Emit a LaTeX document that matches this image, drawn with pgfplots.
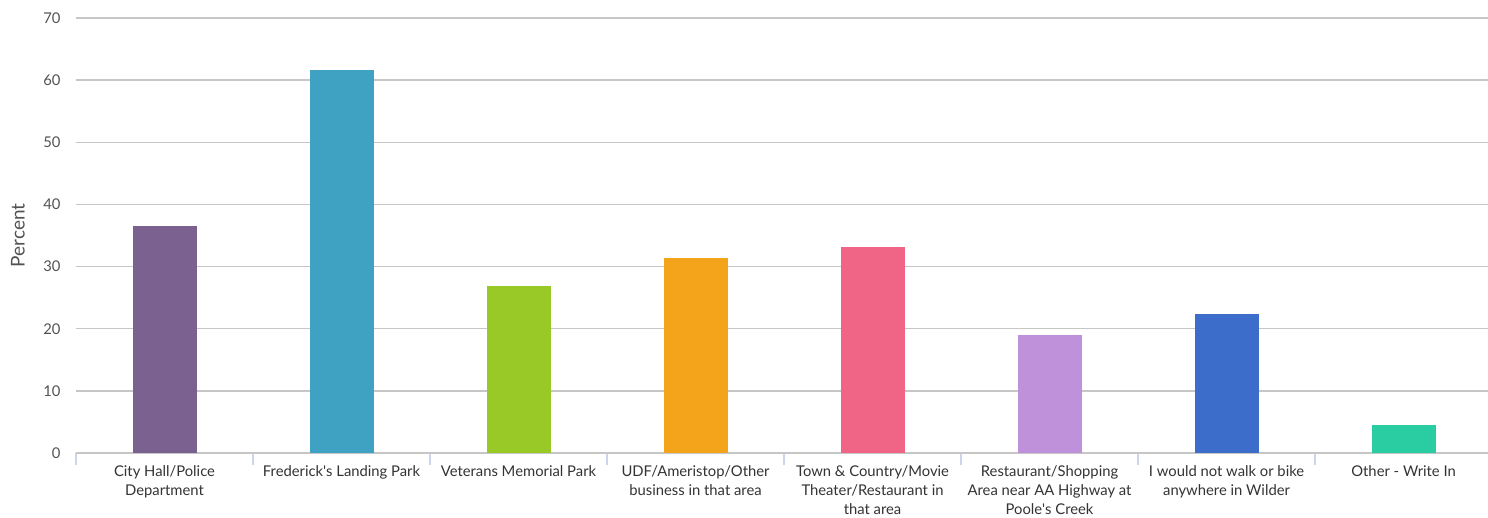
\documentclass[border=0pt]{standalone}
\usepackage{pgfplots}
\pgfplotsset{compat=1.18}
\usepackage{fontspec}
\setmainfont{Lato}
\definecolor{cA}{HTML}{7B6190}
\definecolor{cB}{HTML}{3FA2C2}
\definecolor{cC}{HTML}{98C926}
\definecolor{cD}{HTML}{F4A41A}
\definecolor{cE}{HTML}{F06486}
\definecolor{cF}{HTML}{BF91DB}
\definecolor{cG}{HTML}{3C6DCB}
\definecolor{cH}{HTML}{2ACDA1}
\definecolor{gridc}{HTML}{C6C6C6}
\definecolor{tickc}{HTML}{CCD6EB}
\definecolor{txt}{HTML}{333333}
\begin{document}
\begin{tikzpicture}
\useasboundingbox (-76bp,-65bp) rectangle (1412bp,453bp);
\begin{axis}[
  scale only axis,
  width=1412bp, height=435bp,
  xmin=-0.5, xmax=7.477,
  ymin=0, ymax=70,
  ytick={0,10,...,70},
  xtick={0,...,7},
  xticklabels={
    {City Hall/Police\\Department},
    {Frederick\textquotesingle s Landing Park},
    {Veterans Memorial Park},
    {UDF/Ameristop/Other\\business in that area},
    {Town \& Country/Movie\\Theater/Restaurant in\\that area},
    {Restaurant/Shopping\\Area near AA Highway at\\Poole\textquotesingle s Creek},
    {I would not walk or bike\\anywhere in Wilder},
    {Other - Write In}},
  minor xtick={-0.5,0.5,...,6.5},
  major tick length=0pt,
  minor tick length=12bp,
  tick align=outside,
  minor tick style={tickc, line width=1.2bp},
  ymajorgrids,
  major grid style={gridc, line width=1.3bp},
  axis x line*=bottom,
  axis y line*=left,
  y axis line style={draw=none},
  x axis line style={gridc, line width=1.3bp, -},
  /pgf/number format/assume math mode=true,
  ticklabel style={font=\fontsize{14.8bp}{19bp}\selectfont, text=txt},
  yticklabel style={anchor=east, xshift=-12bp, text=txt!85},
  xticklabel style={align=center, anchor=north, yshift=-9bp},
  ylabel={Percent},
  every axis y label/.style={at={(axis description cs:-0.0411,0.5)}, rotate=90, anchor=center, font=\fontsize{19bp}{21bp}\selectfont, text=txt!85},
  ybar, bar width=64bp,
  bar shift=0pt,
  clip=false,
]
\addplot[draw=none, fill=cA] coordinates {(0,36.5)};
\addplot[draw=none, fill=cB] coordinates {(1,61.6)};
\addplot[draw=none, fill=cC] coordinates {(2,26.9)};
\addplot[draw=none, fill=cD] coordinates {(3,31.4)};
\addplot[draw=none, fill=cE] coordinates {(4,33.2)};
\addplot[draw=none, fill=cF] coordinates {(5,19.0)};
\addplot[draw=none, fill=cG] coordinates {(6,22.4)};
\addplot[draw=none, fill=cH] coordinates {(7,4.5)};
\end{axis}
\end{tikzpicture}
\end{document}
